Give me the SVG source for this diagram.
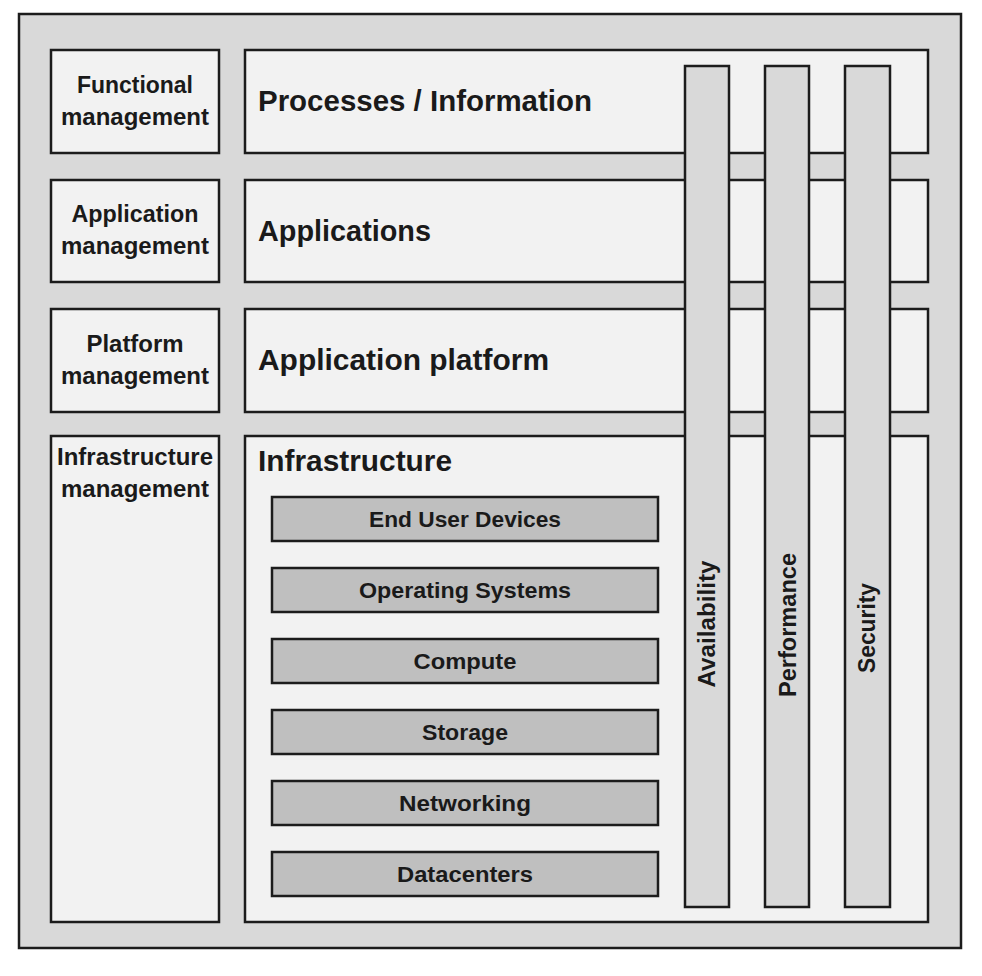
<svg xmlns="http://www.w3.org/2000/svg" width="982" height="976" viewBox="0 0 982 976">
<style>
.box{stroke:#1c1c1c;stroke-width:2.5}
.outer{fill:#d9d9d9;stroke:#1c1c1c;stroke-width:2.5}
.panel{fill:#f2f2f2}
.bar{fill:#d9d9d9}
.item{fill:#bfbfbf}
text{font-family:"Liberation Sans",Arial,sans-serif;font-weight:bold;fill:#1a1a1a}
.mg{font-size:23px;text-anchor:middle}
.big{font-size:29px}
.it{font-size:22px;text-anchor:middle}
.vt{font-size:23px;text-anchor:middle}
</style>
<rect width="982" height="976" fill="#ffffff"/>
<rect id="frame" class="outer" x="19" y="14" width="942" height="934"/>

<g id="functional-management">
<rect class="box panel" x="51" y="50" width="168" height="103"/>
<text class="mg" x="135" y="93" textLength="116" lengthAdjust="spacingAndGlyphs">Functional</text>
<text class="mg" x="135" y="125" textLength="148" lengthAdjust="spacingAndGlyphs">management</text>
</g>
<g id="application-management">
<rect class="box panel" x="51" y="180" width="168" height="102"/>
<text class="mg" x="135" y="222" textLength="127" lengthAdjust="spacingAndGlyphs">Application</text>
<text class="mg" x="135" y="254" textLength="148" lengthAdjust="spacingAndGlyphs">management</text>
</g>
<g id="platform-management">
<rect class="box panel" x="51" y="309" width="168" height="103"/>
<text class="mg" x="135" y="352" textLength="97" lengthAdjust="spacingAndGlyphs">Platform</text>
<text class="mg" x="135" y="384" textLength="148" lengthAdjust="spacingAndGlyphs">management</text>
</g>
<g id="infrastructure-management">
<rect class="box panel" x="51" y="436" width="168" height="486"/>
<text class="mg" x="135" y="465" textLength="156" lengthAdjust="spacingAndGlyphs">Infrastructure</text>
<text class="mg" x="135" y="497" textLength="148" lengthAdjust="spacingAndGlyphs">management</text>
</g>

<g id="processes-information">
<rect class="box panel" x="245" y="50" width="683" height="103"/>
<text class="big" x="258" y="111" textLength="334" lengthAdjust="spacingAndGlyphs">Processes / Information</text>
</g>
<g id="applications">
<rect class="box panel" x="245" y="180" width="683" height="102"/>
<text class="big" x="258" y="241" textLength="173" lengthAdjust="spacingAndGlyphs">Applications</text>
</g>
<g id="application-platform">
<rect class="box panel" x="245" y="309" width="683" height="103"/>
<text class="big" x="258" y="370" textLength="291" lengthAdjust="spacingAndGlyphs">Application platform</text>
</g>
<g id="infrastructure">
<rect class="box panel" x="245" y="436" width="683" height="486"/>
<text class="big" x="258" y="471" textLength="194" lengthAdjust="spacingAndGlyphs">Infrastructure</text>
</g>

<g id="end-user-devices">
<rect class="box item" x="272" y="497" width="386" height="44"/>
<text class="it" x="465" y="527" textLength="192" lengthAdjust="spacingAndGlyphs">End User Devices</text>
</g>
<g id="operating-systems">
<rect class="box item" x="272" y="568" width="386" height="44"/>
<text class="it" x="465" y="598" textLength="212" lengthAdjust="spacingAndGlyphs">Operating Systems</text>
</g>
<g id="compute">
<rect class="box item" x="272" y="639" width="386" height="44"/>
<text class="it" x="465" y="669" textLength="103" lengthAdjust="spacingAndGlyphs">Compute</text>
</g>
<g id="storage">
<rect class="box item" x="272" y="710" width="386" height="44"/>
<text class="it" x="465" y="740" textLength="86" lengthAdjust="spacingAndGlyphs">Storage</text>
</g>
<g id="networking">
<rect class="box item" x="272" y="781" width="386" height="44"/>
<text class="it" x="465" y="811" textLength="132" lengthAdjust="spacingAndGlyphs">Networking</text>
</g>
<g id="datacenters">
<rect class="box item" x="272" y="852" width="386" height="44"/>
<text class="it" x="465" y="882" textLength="136" lengthAdjust="spacingAndGlyphs">Datacenters</text>
</g>

<g id="availability">
<rect class="box bar" x="685" y="66" width="44" height="841"/>
<text class="vt" transform="translate(715,624) rotate(-90)" textLength="127" lengthAdjust="spacingAndGlyphs">Availability</text>
</g>
<g id="performance">
<rect class="box bar" x="765" y="66" width="44" height="841"/>
<text class="vt" transform="translate(796,625) rotate(-90)" textLength="144" lengthAdjust="spacingAndGlyphs">Performance</text>
</g>
<g id="security">
<rect class="box bar" x="845" y="66" width="45" height="841"/>
<text class="vt" transform="translate(875,628) rotate(-90)" textLength="90" lengthAdjust="spacingAndGlyphs">Security</text>
</g>
<g id="connectors"/>
</svg>
